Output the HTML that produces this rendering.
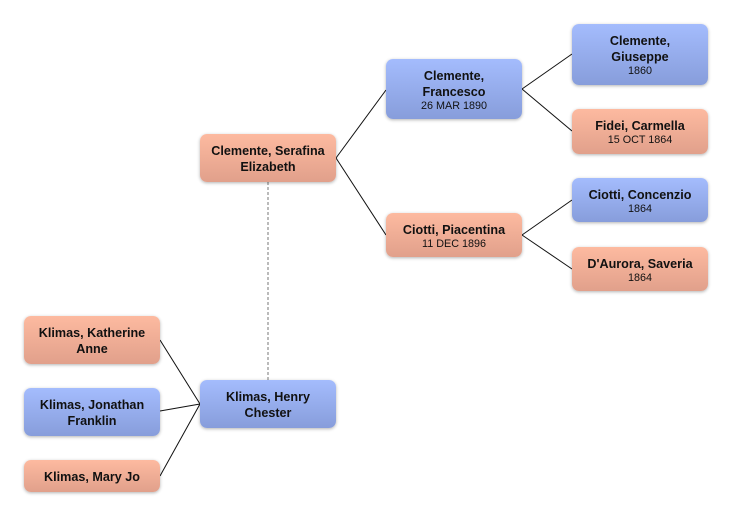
<!DOCTYPE html>
<html><head><meta charset="utf-8"><style>
body{margin:0;width:732px;height:516px;background:#fff;position:relative;overflow:hidden;font-family:"Liberation Sans","DejaVu Sans",sans-serif;}
.b{position:absolute;width:136px;border-radius:7px;box-shadow:0 1px 3px rgba(0,0,0,.3);display:flex;flex-direction:column;justify-content:center;align-items:center;text-align:center;color:#111;font-weight:bold;font-size:12.6px;line-height:16px;box-sizing:border-box;padding-top:1px;}
.m{background:linear-gradient(#a4bcfd,#879ddb);}
.f{background:linear-gradient(#fdbaa0,#e1a08b);}
.d{font-weight:normal;font-size:10.8px;line-height:12px;}
svg{position:absolute;left:0;top:0;}
</style></head><body>
<svg width="732" height="516">
<g stroke="#111" stroke-width="1" fill="none">
<path d="M336 158L386 90M336 158L386 235M522 89L572 54M522 89L572 131M522 235L572 200M522 235L572 269M200 404L160 340M200 404L160 411M200 404L160 476"/>
<path d="M268 182V380" stroke="#777" stroke-dasharray="3,2"/>
</g></svg>
<div class="b f" style="left:200px;top:134px;height:48px">Clemente, Serafina<br>Elizabeth</div>
<div class="b m" style="left:386px;top:59px;height:60px">Clemente,<br>Francesco<span class="d">26 MAR 1890</span></div>
<div class="b f" style="left:386px;top:213px;height:44px">Ciotti, Piacentina<span class="d">11 DEC 1896</span></div>
<div class="b m" style="left:572px;top:24px;height:61px">Clemente,<br>Giuseppe<span class="d">1860</span></div>
<div class="b f" style="left:572px;top:109px;height:45px">Fidei, Carmella<span class="d">15 OCT 1864</span></div>
<div class="b m" style="left:572px;top:178px;height:44px">Ciotti, Concenzio<span class="d">1864</span></div>
<div class="b f" style="left:572px;top:247px;height:44px">D'Aurora, Saveria<span class="d">1864</span></div>
<div class="b f" style="left:24px;top:316px;height:48px">Klimas, Katherine<br>Anne</div>
<div class="b m" style="left:24px;top:388px;height:48px">Klimas, Jonathan<br>Franklin</div>
<div class="b f" style="left:24px;top:460px;height:32px">Klimas, Mary Jo</div>
<div class="b m" style="left:200px;top:380px;height:48px">Klimas, Henry<br>Chester</div>
</body></html>
